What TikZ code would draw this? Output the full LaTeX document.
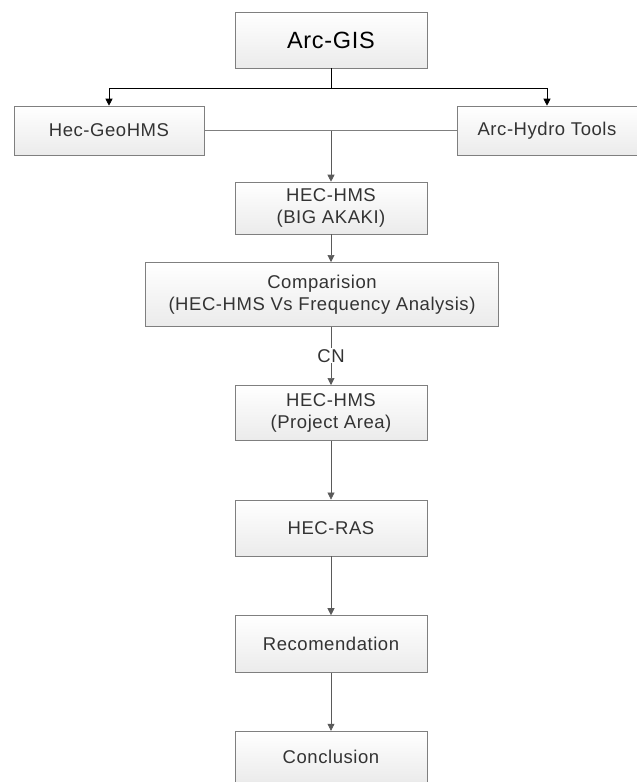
\documentclass[tikz,border=0pt]{standalone}
\usepackage{fontspec}
\setmainfont{Liberation Sans}[LetterSpace=3]
\usepackage{tikz}
\usetikzlibrary{positioning, arrows.meta, calc}
\definecolor{boxline}{HTML}{7F7F7F}
\definecolor{boxfill}{HTML}{EBEBEB}
\definecolor{textgray}{HTML}{333333}
\definecolor{linegray}{HTML}{5A5A5A}

\begin{document}
\begin{tikzpicture}[
  x=1pt, y=1pt,
  node distance=59pt,
  box/.style={rectangle, draw=boxline, semithick, top color=white, bottom color=boxfill, minimum width=192pt, minimum height=56pt, align=center, text=textgray, inner sep=2pt, font=\fontsize{18.5}{22}\selectfont},
  arrow/.style={-{Triangle[length=7pt,width=7pt]}, draw=linegray, semithick},
  bigarrow/.style={-{Triangle[length=7pt,width=7pt]}, draw=black, thick},
  link/.style={draw=boxline, semithick}
]
  \useasboundingbox (0,0) rectangle (637,-782);
  \node[box, minimum height=56pt, font=\fontsize{23.5}{28}\selectfont, text=black] (gis) at (331,-40) {Arc-GIS};
  \node[box, minimum width=190pt, minimum height=49pt] (geohms) at (109,-130.5) {Hec-GeoHMS};
  \node[box, minimum width=180pt, minimum height=49pt] (hydro) at (547,-130.5) {Arc-Hydro Tools};
  \node[box, minimum height=52pt] (hmsbig) at (331,-208) {HEC-HMS\\(BIG AKAKI)};
  \node[box, minimum width=353pt, minimum height=64pt, anchor=north] (compare) at (322,-262) {Comparision\\(HEC-HMS Vs Frequency Analysis)};
  \node[box, minimum height=55pt, anchor=north] (hmsproj) at (331,-385) {HEC-HMS\\(Project Area)};
  \node[box, below=of hmsproj] (ras) {HEC-RAS};
  \node[box, minimum height=57pt, below=of ras] (recom) {Recomendation};
  \node[box, minimum height=51pt, below=58pt of recom] (concl) {Conclusion};

  % Arc-GIS split
  \coordinate (split) at ($(gis.south)+(0,-20)$);
  \draw[thick] (gis.south) -- (split);
  \draw[bigarrow] (split) -| (geohms.north);
  \draw[bigarrow] (split) -| (hydro.north);

  % tools into HEC-HMS
  \draw[link] (geohms.east) -- (hydro.west);
  \draw[arrow, thick] (geohms.east -| hmsbig.north) -- (hmsbig.north);

  \draw[arrow] (hmsbig.south) -- (hmsbig.south |- compare.north);
  \draw[arrow] (hmsproj.north |- compare.south) -- node[fill=white, text=textgray, inner sep=1pt, font=\fontsize{18.5}{22}\selectfont] {CN} (hmsproj.north);
  \draw[arrow] (hmsproj) -- (ras);
  \draw[arrow] (ras) -- (recom);
  \draw[arrow] (recom) -- (concl);
\end{tikzpicture}
\end{document}
